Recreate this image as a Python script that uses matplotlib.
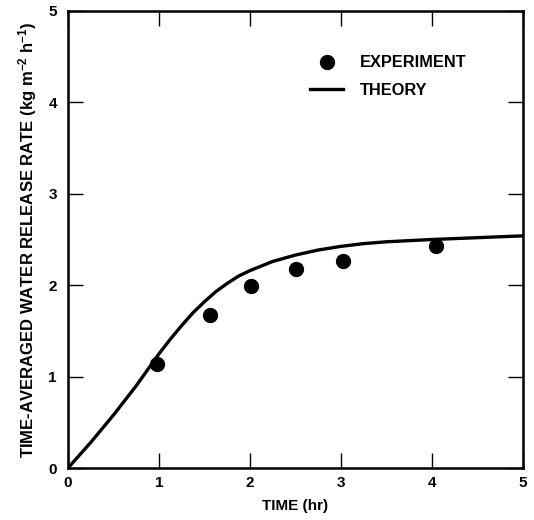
import matplotlib
matplotlib.use("Agg")
import matplotlib.pyplot as plt

# Experimental data
exp_time = [0.98, 1.56, 2.01, 2.50, 3.02, 4.04]
exp_rate = [1.14, 1.67, 1.99, 2.18, 2.26, 2.43]

# Theory curve
theory_time = [0.0, 0.25, 0.5, 0.75, 1.0, 1.125, 1.25, 1.375, 1.5, 1.625, 1.75, 1.875, 2.0, 2.125,
               2.25, 2.5, 2.75, 3.0, 3.25, 3.5, 4.0, 4.5, 5.0]
theory_rate = [0.0, 0.28, 0.58, 0.90, 1.25, 1.41, 1.56, 1.70, 1.82, 1.93, 2.02, 2.10, 2.16, 2.21,
               2.26, 2.33, 2.385, 2.425, 2.455, 2.475, 2.50, 2.52, 2.54]

ticks = [0, 1, 2, 3, 4, 5]
tick_labels = ["0", "1", "2", "3", "4", "5"]

plt.rcParams['font.family'] = ['Liberation Sans', 'DejaVu Sans']
plt.rcParams['font.weight'] = 'bold'
plt.rcParams['mathtext.fontset'] = 'custom'
plt.rcParams['mathtext.rm'] = 'Liberation Sans:bold'
plt.rcParams['mathtext.bf'] = 'Liberation Sans:bold'
plt.rcParams['mathtext.default'] = 'bf'

fig = plt.figure(figsize=(5.34, 5.20), dpi=100)
ax = fig.add_axes([68/534, 52/520, 455/534, 457/520])

ax.plot(theory_time, theory_rate, color='black', lw=2.4, label='THEORY', zorder=2,
        solid_joinstyle='round')
ax.plot(exp_time, exp_rate, 'o', color='black', markersize=10, label='EXPERIMENT', zorder=3)

ax.set_xlim(0, 5)
ax.set_ylim(0, 5)
ax.set_xticks(ticks)
ax.set_xticklabels(tick_labels)
ax.set_yticks(ticks)
ax.set_yticklabels(tick_labels)
ax.tick_params(direction='in', length=11, width=1, top=True, right=True, labelsize=11)
ax.tick_params(axis='y', pad=8)
ax.tick_params(axis='x', pad=6)
for s in ax.spines.values():
    s.set_linewidth(1.8)

ax.set_xlabel('TIME (hr)', fontsize=11, fontweight='bold', labelpad=6)
ax.set_ylabel('TIME-AVERAGED WATER RELEASE RATE (kg m$^{-2}$ h$^{-1}$)', fontsize=12,
              fontweight='bold', labelpad=7)

h, l = ax.get_legend_handles_labels()
leg = ax.legend([h[1], h[0]], [l[1], l[0]], loc='upper left', bbox_to_anchor=(0.5, 0.935),
                frameon=False, fontsize=11.8, handlelength=2.0, labelspacing=0.75, handletextpad=1.0)

fig.savefig('out.png', dpi=100)
